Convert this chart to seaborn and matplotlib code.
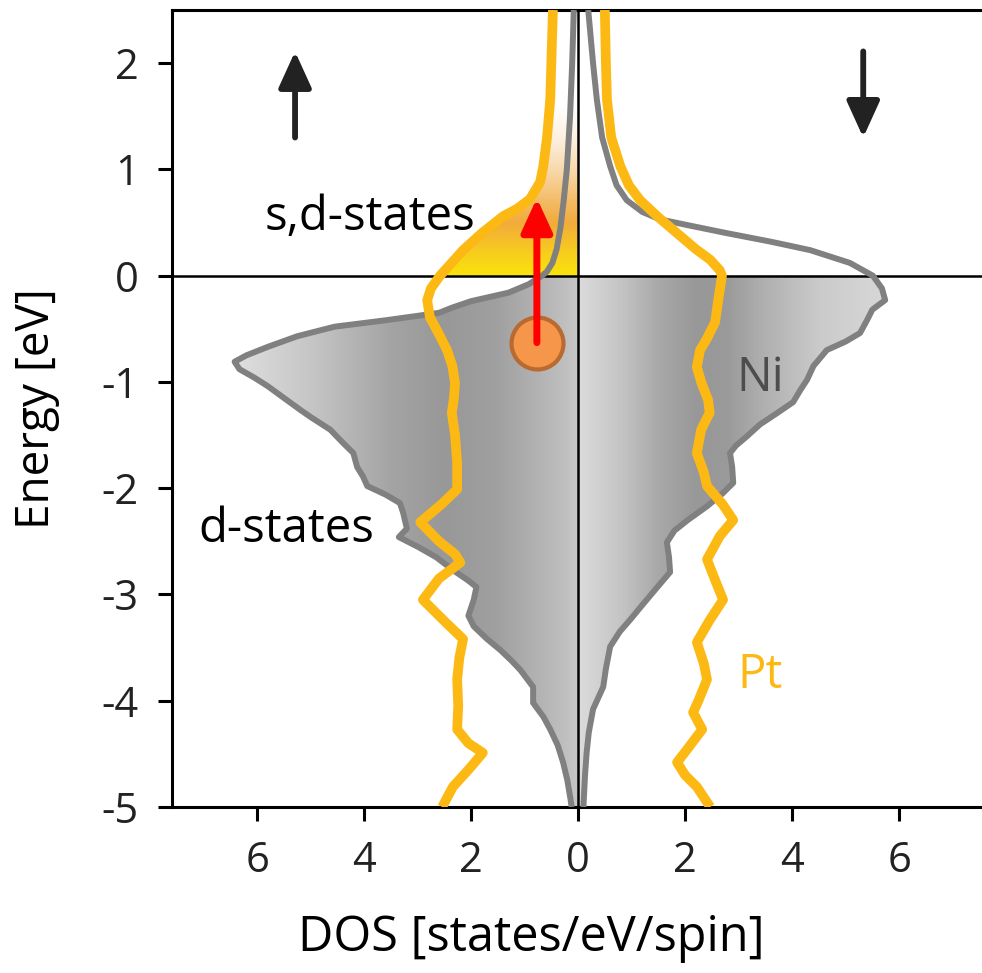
import numpy as np
import matplotlib
matplotlib.use("Agg")
import matplotlib.pyplot as plt
from matplotlib.colors import LinearSegmentedColormap
from matplotlib.patches import Polygon
import seaborn as sns

# ---- Density of states (states/eV/spin) versus energy (eV) ----
# Ni, spin up (drawn to the left)
ni_up_E = [2.5, 2.0, 1.5, 1.0, 0.7, 0.45, 0.25, 0.12, 0.04, 0.0, -0.08, -0.16,
           -0.24, -0.3, -0.35, -0.42, -0.48, -0.57, -0.67, -0.75, -0.81, -0.88,
           -0.96, -1.04, -1.15, -1.26, -1.33, -1.45, -1.56, -1.67, -1.8, -1.89,
           -1.98, -2.06, -2.14, -2.23, -2.38, -2.46, -2.55, -2.65, -2.77, -2.87,
           -2.93, -3.05, -3.2, -3.3, -3.42, -3.52, -3.62, -3.71, -3.87, -4.02,
           -4.15, -4.27, -4.42, -4.58, -4.75, -4.93, -5.0]
ni_up_dos = [0.08, 0.11, 0.15, 0.21, 0.27, 0.33, 0.4, 0.48, 0.58, 0.67, 0.92, 1.3,
             2.0, 2.35, 2.6, 3.6, 4.55, 5.25, 5.8, 6.2, 6.42, 6.33,
             6.05, 5.8, 5.5, 5.2, 5.0, 4.63, 4.42, 4.2, 4.13, 4.02,
             3.94, 3.6, 3.33, 3.27, 3.2, 3.35, 3.0, 2.65, 2.34, 2.05,
             1.9, 1.95, 2.05, 1.95, 1.7, 1.46, 1.25, 1.08, 0.84, 0.84,
             0.65, 0.52, 0.38, 0.28, 0.2, 0.14, 0.12]

# Ni, spin down (drawn to the right)
ni_dn_E = [2.5, 2.0, 1.66, 1.3, 1.03, 0.85, 0.71, 0.6, 0.53, 0.47, 0.4, 0.32,
           0.24, 0.12, 0.0, -0.12, -0.23, -0.32, -0.42, -0.54, -0.62, -0.7,
           -0.85, -0.98, -1.08, -1.19, -1.3, -1.4, -1.51, -1.6, -1.67, -1.8,
           -1.95, -2.05, -2.17, -2.3, -2.4, -2.51, -2.65, -2.79, -2.95, -3.1,
           -3.24, -3.35, -3.49, -3.7, -3.87, -4.08, -4.3, -4.49, -4.7, -5.0]
ni_dn_dos = [0.19, 0.28, 0.35, 0.45, 0.6, 0.72, 0.91, 1.2, 1.53, 2.1, 2.78, 3.6,
             4.34, 5.08, 5.51, 5.68, 5.74, 5.5, 5.4, 5.27, 5.0, 4.65,
             4.4, 4.28, 4.15, 4.02, 3.7, 3.4, 3.16, 2.95, 2.84, 2.88,
             2.9, 2.7, 2.41, 2.05, 1.8, 1.66, 1.7, 1.72, 1.45, 1.2,
             0.97, 0.78, 0.6, 0.52, 0.47, 0.28, 0.2, 0.16, 0.13, 0.1]

# Pt, spin up (drawn to the left)
pt_up_E = [2.5, 2.0, 1.66, 1.3, 1.03, 0.88, 0.72, 0.63, 0.56, 0.4, 0.24, 0.1,
           0.0, -0.12, -0.23, -0.39, -0.55, -0.7, -0.85, -1.01, -1.15, -1.29,
           -1.5, -1.76, -2.01, -2.15, -2.32, -2.5, -2.62, -2.7, -2.85, -3.05,
           -3.25, -3.42, -3.6, -3.8, -4.05, -4.27, -4.4, -4.49, -4.65, -4.81, -5.0]
pt_up_dos = [0.47, 0.5, 0.52, 0.58, 0.65, 0.71, 0.9, 1.14, 1.4, 1.8, 2.15, 2.4,
             2.58, 2.75, 2.82, 2.77, 2.6, 2.45, 2.35, 2.3, 2.32, 2.36,
             2.3, 2.26, 2.26, 2.55, 2.95, 2.6, 2.3, 2.2, 2.6, 2.9,
             2.5, 2.15, 2.22, 2.26, 2.24, 2.26, 2.05, 1.78, 2.05, 2.34, 2.54]

# Pt, spin down (drawn to the right)
pt_dn_E = [2.5, 2.0, 1.66, 1.3, 1.03, 0.85, 0.71, 0.55, 0.4, 0.25, 0.15, 0.05,
           0.0, -0.1, -0.23, -0.44, -0.6, -0.7, -0.86, -1.0, -1.17, -1.29,
           -1.45, -1.67, -1.85, -1.98, -2.15, -2.3, -2.45, -2.67, -2.85, -3.05,
           -3.25, -3.45, -3.65, -3.8, -4.0, -4.11, -4.27, -4.45, -4.58, -4.7,
           -4.81, -5.0]
pt_dn_dos = [0.5, 0.52, 0.54, 0.62, 0.79, 0.95, 1.16, 1.5, 1.85, 2.2, 2.47, 2.65,
             2.69, 2.66, 2.62, 2.56, 2.4, 2.28, 2.22, 2.3, 2.43, 2.46,
             2.3, 2.22, 2.35, 2.41, 2.7, 2.9, 2.65, 2.41, 2.55, 2.71,
             2.45, 2.22, 2.35, 2.41, 2.25, 2.15, 2.32, 2.05, 1.85, 2.0,
             2.22, 2.47]

# excitation: electron lifted from below to above the Fermi level
exc_dos = 0.77
exc_E_start = -0.63
exc_E_end = 0.73

x_ticks = [-6, -4, -2, 0, 2, 4, 6]
x_ticklabels = ["6", "4", "2", "0", "2", "4", "6"]
y_ticks = [-5, -4, -3, -2, -1, 0, 1, 2]
y_ticklabels = ["-5", "-4", "-3", "-2", "-1", "0", "1", "2"]

# ---- style ----
NI_COLOR = "#808080"
PT_COLOR = "#FDB913"

sns.set_theme(style="ticks")
plt.rcParams["font.family"] = ["Open Sans", "DejaVu Sans"]

fig = plt.figure(figsize=(9.82, 9.73), dpi=100)
ax = fig.add_axes([172 / 982, 1 - 807 / 973, 810 / 982, 797 / 973])

XMIN, XMAX = -7.59, 7.55
EMIN, EMAX = -5.0, 2.5


def gradient_region(xs, ys, stops, horizontal, extent, z=1):
    """Fill the polygon (xs, ys) with a linear colour gradient."""
    poly = Polygon(np.column_stack([xs, ys]), closed=True,
                   facecolor="none", edgecolor="none")
    ax.add_patch(poly)
    cmap = LinearSegmentedColormap.from_list("grad", stops)
    g = np.linspace(0, 1, 512)
    img = g[None, :] if horizontal else g[:, None]
    im = ax.imshow(img, cmap=cmap, extent=extent, origin="lower",
                   aspect="auto", interpolation="bilinear", zorder=z)
    im.set_clip_path(poly)


ni_up_E_a = np.array(ni_up_E)
ni_up_x = -np.array(ni_up_dos)
ni_dn_E_a = np.array(ni_dn_E)
ni_dn_x = np.array(ni_dn_dos)
pt_up_E_a = np.array(pt_up_E)
pt_up_x = -np.array(pt_up_dos)
pt_dn_E_a = np.array(pt_dn_E)
pt_dn_x = np.array(pt_dn_dos)

# occupied Ni states (below the Fermi level), grey gradients
m = ni_up_E_a <= 0
xs = np.concatenate([ni_up_x[m], [0, 0]])
ys = np.concatenate([ni_up_E_a[m], [EMIN, 0]])
left_stops = [(0.0, "#e2e2e2"), (0.24, "#c6c6c6"), (0.47, "#a4a4a4"),
              (0.62, "#989898"), (0.77, "#a0a0a0"), (0.92, "#b8b8b8"),
              (1.0, "#c6c6c6")]
gradient_region(xs, ys, left_stops, True, (-6.6, 0, EMIN, 0))

m = ni_dn_E_a <= 0
xs = np.concatenate([[0, 0], ni_dn_x[m][::-1]])
ys = np.concatenate([[0, EMIN], ni_dn_E_a[m][::-1]])
right_stops = [(0.0, "#dcdcdc"), (0.14, "#c4c4c4"), (0.25, "#aaaaaa"),
               (0.38, "#989898"), (0.48, "#9a9a9a"), (0.6, "#b0b0b0"),
               (0.78, "#cbcbcb"), (1.0, "#d8d8d8")]
gradient_region(xs, ys, right_stops, True, (0, 5.8, EMIN, 0))

# empty s,d-states above the Fermi level, yellow-orange gradient
m = pt_up_E_a >= 0
xs = np.concatenate([pt_up_x[m], [0, 0]])
ys = np.concatenate([pt_up_E_a[m], [0, EMAX]])
yel_stops = [(0.0, "#fae30a"), (0.08, "#f7cf1c"), (0.2, "#f2ab3c"),
             (0.28, "#f4bb66"), (0.4, "#f8d9ac"), (0.52, "#fdf0e2"),
             (0.64, "#ffffff"), (1.0, "#ffffff")]
gradient_region(xs, ys, yel_stops, False, (-3, 0, 0, EMAX))

# reference lines: Fermi level and zero DOS
ax.axhline(0, color="black", lw=1.8, zorder=3)
ax.axvline(0, color="black", lw=1.8, zorder=3)

# DOS curves
for xv, ev, col, lw, z in [(ni_up_x, ni_up_E_a, NI_COLOR, 4.3, 4),
                           (ni_dn_x, ni_dn_E_a, NI_COLOR, 4.3, 4),
                           (pt_up_x, pt_up_E_a, PT_COLOR, 7.0, 5),
                           (pt_dn_x, pt_dn_E_a, PT_COLOR, 7.0, 5)]:
    sns.lineplot(x=xv, y=ev, sort=False, estimator=None, color=col, lw=lw,
                 ax=ax, zorder=z, solid_joinstyle="round", solid_capstyle="butt")

# spin arrows
spin_style = dict(arrowstyle="-|>,head_length=1.1,head_width=0.5",
                  color="#222222", lw=4.2, mutation_scale=20,
                  shrinkA=0, shrinkB=0)
ax.annotate("", xy=(-5.29, 2.11), xytext=(-5.29, 1.30), arrowprops=spin_style, zorder=6)
ax.annotate("", xy=(5.33, 1.30), xytext=(5.33, 2.11), arrowprops=spin_style, zorder=6)

# hot electron excitation
ax.scatter([-exc_dos], [exc_E_start], s=1400, color="#f5964a",
           edgecolor="#b86a30", linewidth=3, zorder=7)
ax.annotate("", xy=(-exc_dos, exc_E_end), xytext=(-exc_dos, exc_E_start),
            arrowprops=dict(arrowstyle="-|>,head_length=1.2,head_width=0.55",
                            color="#ff0000", lw=5, mutation_scale=17,
                            shrinkA=0, shrinkB=0), zorder=8)

# labels inside the plot
ax.text(-3.89, 0.43, "s,d-states", fontsize=34, ha="center", va="baseline",
        color="black", zorder=9)
ax.text(-5.46, -2.51, "d-states", fontsize=34, ha="center", va="baseline",
        color="black", zorder=9)
ax.text(3.40, -1.09, "Ni", fontsize=34, ha="center", va="baseline",
        color="#4d4d4d", zorder=9)
ax.text(3.40, -3.88, "Pt", fontsize=34, ha="center", va="baseline",
        color=PT_COLOR, zorder=9)

# axes
ax.set_xlim(XMIN, XMAX)
ax.set_ylim(EMIN, EMAX)
ax.set_xticks(x_ticks)
ax.set_xticklabels(x_ticklabels)
ax.set_yticks(y_ticks)
ax.set_yticklabels(y_ticklabels)
ax.tick_params(axis="both", direction="out", length=10, width=2.2,
               labelsize=30, pad=14, colors="black", labelcolor="#222222")
for side in ["left", "top", "bottom"]:
    ax.spines[side].set_linewidth(2.2)
    ax.spines[side].set_color("black")
ax.spines["right"].set_visible(False)
ax.set_facecolor("white")
ax.grid(False)

ax.set_xlabel("DOS [states/eV/spin]", fontsize=35, color="black")
ax.set_ylabel("Energy [eV]", fontsize=33, color="black")
ax.xaxis.set_label_coords(0.444, -0.133)
ax.yaxis.set_label_coords(-0.138, 0.5)

fig.savefig("out.png", dpi=100, facecolor="white")
